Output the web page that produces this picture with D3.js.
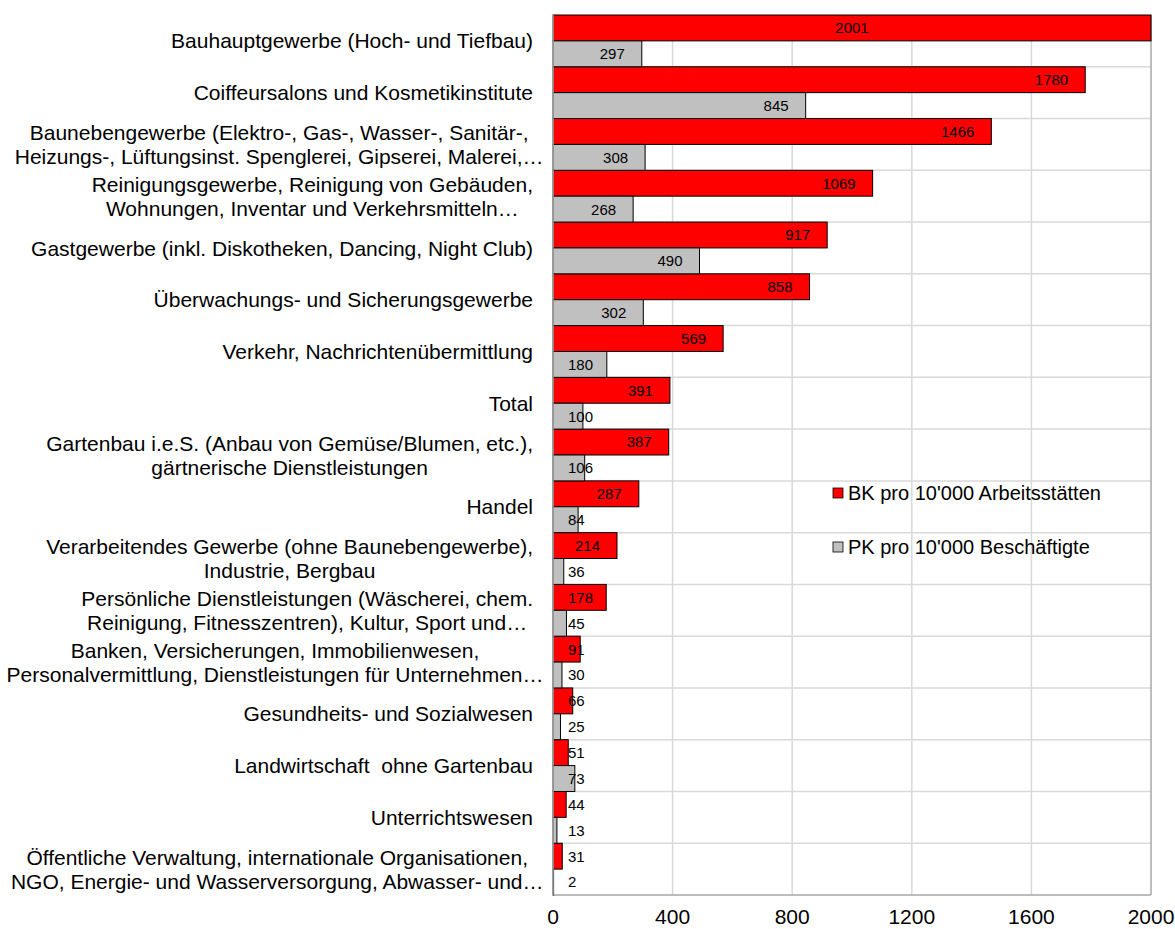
<!DOCTYPE html>
<html><head><meta charset="utf-8">
<script src="https://cdn.jsdelivr.net/npm/d3@7"></script>
<style>body{margin:0;background:#fff}svg{font-family:"Liberation Sans",Arial,sans-serif}</style>
</head><body>
<svg id="c" width="1175" height="929"></svg>
<script>
const categories = [
  ["Bauhauptgewerbe (Hoch- und Tiefbau)"],
  ["Coiffeursalons und Kosmetikinstitute"],
  ["Baunebengewerbe (Elektro-, Gas-, Wasser-, Sanitär-,", "Heizungs-, Lüftungsinst. Spenglerei, Gipserei, Malerei,…"],
  ["Reinigungsgewerbe, Reinigung von Gebäuden,", "Wohnungen, Inventar und Verkehrsmitteln…"],
  ["Gastgewerbe (inkl. Diskotheken, Dancing, Night Club)"],
  ["Überwachungs- und Sicherungsgewerbe"],
  ["Verkehr, Nachrichtenübermittlung"],
  ["Total"],
  ["Gartenbau i.e.S. (Anbau von Gemüse/Blumen, etc.),", "gärtnerische Dienstleistungen"],
  ["Handel"],
  ["Verarbeitendes Gewerbe (ohne Baunebengewerbe),", "Industrie, Bergbau"],
  ["Persönliche Dienstleistungen (Wäscherei, chem.", "Reinigung, Fitnesszentren), Kultur, Sport und…"],
  ["Banken, Versicherungen, Immobilienwesen,", "Personalvermittlung, Dienstleistungen für Unternehmen…"],
  ["Gesundheits- und Sozialwesen"],
  ["Landwirtschaft\u00a0 ohne Gartenbau"],
  ["Unterrichtswesen"],
  ["Öffentliche Verwaltung, internationale Organisationen,", "NGO, Energie- und Wasserversorgung, Abwasser- und…"]
];
const bkValues = [2001,1780,1466,1069,917,858,569,391,387,287,214,178,91,66,51,44,31];
const pkValues = [297,845,308,268,490,302,180,100,106,84,36,45,30,25,73,13,2];
const seriesNames = ["BK pro 10'000 Arbeitsstätten", "PK pro 10'000 Beschäftigte"];
const seriesColors = ["#ff0000", "#c0c0c0"];
const xTicks = [0,400,800,1200,1600,2000];

const svg = d3.select("#c");
const L = 553, R = 1151, T = 15, B = 895;
const x = d3.scaleLinear().domain([0,2000]).range([L,R]);
const y = d3.scaleBand().domain(d3.range(categories.length)).range([T,B]).paddingInner(0).paddingOuter(0);
const sub = d3.scaleBand().domain([0,1]).range([0,y.bandwidth()]);

// gridlines
const g = svg.append("g");
g.selectAll(".vg").data(xTicks.slice(1,-1)).join("line")
  .attr("x1",d=>x(d)).attr("x2",d=>x(d)).attr("y1",T).attr("y2",B)
  .attr("stroke","#d9d9d9").attr("stroke-width",1.5);
g.selectAll(".hg").data(d3.range(1,categories.length)).join("line")
  .attr("x1",L).attr("x2",R).attr("y1",d=>y(d)).attr("y2",d=>y(d))
  .attr("stroke","#d9d9d9").attr("stroke-width",1.5);
// border
svg.append("line").attr("x1",R).attr("x2",R).attr("y1",T).attr("y2",B).attr("stroke","#a6a6a6").attr("stroke-width",1.5);
svg.append("line").attr("x1",L).attr("x2",R).attr("y1",B).attr("y2",B).attr("stroke","#a6a6a6").attr("stroke-width",1.5);

// bars
const series = [bkValues, pkValues];
series.forEach((vals, si) => {
  svg.append("g").selectAll("rect").data(vals).join("rect")
    .attr("x", x(0))
    .attr("y", (d,i)=>y(i)+sub(si))
    .attr("width", d=>Math.max(0, x(Math.min(d,2000))-x(0)))
    .attr("height", sub.bandwidth())
    .attr("fill", seriesColors[si])
    .attr("stroke", "#000").attr("stroke-width", 1);
});
// left axis line
svg.append("line").attr("x1",L).attr("x2",L).attr("y1",T).attr("y2",B).attr("stroke","#a6a6a6").attr("stroke-width",1.5);

// value labels
series.forEach((vals, si) => {
  const lg = svg.append("g").attr("font-size", 15).attr("fill", "#000");
  vals.forEach((v,i) => {
    const cy = y(i)+sub(si)+sub.bandwidth()/2;
    const t = lg.append("text").text(v).attr("y", cy).attr("dy","0.36em");
    if (v > 2000) {
      t.attr("x", (x(0)+x(2000))/2).attr("text-anchor","middle");
    } else {
      const w = t.node().getComputedTextLength();
      const xe = x(v) - 17 - w;
      t.attr("x", Math.max(xe, L + 15));
    }
  });
});

// category labels
const cg = svg.append("g").attr("font-size", 21).attr("fill", "#000");
const ell = cg.append("text").text("…");
const ellW = ell.node().getComputedTextLength();
ell.remove();
categories.forEach((lines, i) => {
  const cy = y(i) + y.bandwidth()/2;
  const lh = 24;
  const texts = lines.map((s, k) => cg.append("text").text(s)
    .attr("y", cy + (k - (lines.length-1)/2)*lh).attr("dy","0.36em").attr("text-anchor","middle"));
  let maxW = 0;
  texts.forEach(t => {
    let w = t.node().getComputedTextLength();
    if (t.text().endsWith("…")) w -= ellW;
    maxW = Math.max(maxW, w);
  });
  texts.forEach(t => t.attr("x", 533 - maxW/2));
});

// x tick labels
svg.append("g").attr("font-size", 21).selectAll("text").data(xTicks).join("text")
  .attr("x", d=>x(d)).attr("y", 916).attr("dy","0.36em").attr("text-anchor","middle").text(d=>d);

// legend
const leg = svg.append("g");
seriesNames.forEach((n, i) => {
  const ly = 493 + i*54;
  leg.append("rect").attr("x", 833).attr("y", ly-5).attr("width", 10).attr("height", 10)
    .attr("fill", seriesColors[i]).attr("stroke", "#000").attr("stroke-width", 0.8);
  leg.append("text").attr("x", 848).attr("y", ly).attr("dy","0.36em").attr("font-size", 20).text(n);
});
</script>
</body></html>
